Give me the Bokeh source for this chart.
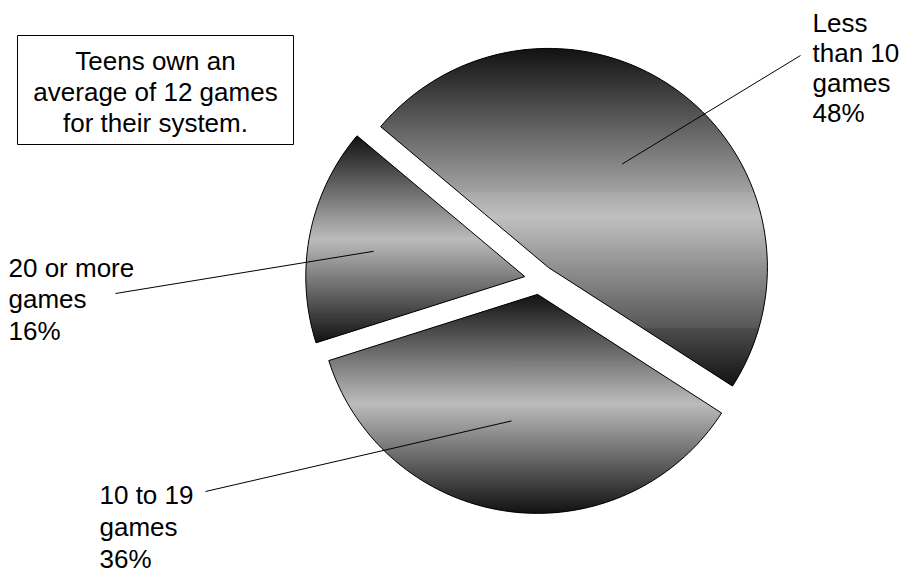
import math
from bokeh.plotting import figure
from bokeh.models import Range1d, ColumnDataSource
from bokeh.core.properties import value
from bokeh.embed import file_html
from bokeh.resources import INLINE

# ---------------- data ----------------
categories = ["Less than 10 games", "10 to 19 games", "20 or more games"]
values = [48, 36, 16]
label_lines = [["Less", "than 10", "games"], ["10 to 19", "games"], ["20 or more", "games"]]
note_lines = ["Teens own an", "average of 12 games", "for their system."]

# ---------------- layout (screen px, y downward) ----------------
W, H = 904, 573
CX, CY = 539.0, 279.0       # pie centre
R = 219.0                   # radius
EXPLODE = 15.0
START_DEG = 140.0           # first slice starts here and runs clockwise
DARK, LIGHT = 18, 188

label_x = [812, 99, 8]
label_y0 = [22, 494, 267]     # vertical middle of first line
label_gap = [30, 32, 31.5]
leader_outer = [(800, 55), (205, 491), (115, 293)]
leader_frac = [0.58, 0.59, 0.70]
leader_dang = [0.9, -4.0, 1.7]

FONT = value("Liberation Sans")
FSIZE = "26px"

p = figure(width=W, height=H, output_backend="svg", toolbar_location=None,
           x_range=Range1d(0, W), y_range=Range1d(H, 0),
           x_axis_type=None, y_axis_type=None, min_border=0,
           background_fill_color="white", border_fill_color="white")
p.outline_line_color = None
p.xgrid.visible = False
p.ygrid.visible = False


def pt(cx, cy, r, deg):
    a = math.radians(deg)
    return (cx + r * math.cos(a), cy - r * math.sin(a))


def clip_half(pts, ylim, keep_ge):
    out = []
    n = len(pts)
    for i in range(n):
        cur, prev = pts[i], pts[i - 1]
        cin = cur[1] >= ylim if keep_ge else cur[1] <= ylim
        pin = prev[1] >= ylim if keep_ge else prev[1] <= ylim
        if cin:
            if not pin:
                t = (ylim - prev[1]) / (cur[1] - prev[1])
                out.append((prev[0] + t * (cur[0] - prev[0]), ylim))
            out.append(cur)
        elif pin:
            t = (ylim - prev[1]) / (cur[1] - prev[1])
            out.append((prev[0] + t * (cur[0] - prev[0]), ylim))
    return out


total = float(sum(values))
angle = START_DEG
strip_xs, strip_ys, strip_cols = [], [], []
out_xs, out_ys = [], []
seg = dict(x0=[], y0=[], x1=[], y1=[])
txt = dict(x=[], y=[], text=[])

for i, v in enumerate(values):
    span = v / total * 360.0
    a0, a1 = angle, angle - span
    mid = (a0 + a1) / 2.0
    ax, ay = pt(CX, CY, EXPLODE, mid)
    steps = max(8, int(span / 1.5))
    poly = [(ax, ay)] + [pt(ax, ay, R, a0 + (a1 - a0) * k / steps) for k in range(steps + 1)]
    out_xs.append([q[0] for q in poly])
    out_ys.append([q[1] for q in poly])

    ymin = min(q[1] for q in poly)
    ymax = max(q[1] for q in poly)
    nb = int(math.ceil(ymax - ymin))
    h = (ymax - ymin) / nb
    for b in range(nb):
        y0 = ymin + b * h
        y1 = y0 + h + 0.6
        c = clip_half(poly, y0, True)
        if len(c) < 3:
            continue
        c = clip_half(c, y1, False)
        if len(c) < 3:
            continue
        t = (b + 0.5) / nb
        g = int(round(DARK + (LIGHT - DARK) * (1 - abs(2 * t - 1))))
        strip_xs.append([q[0] for q in c])
        strip_ys.append([q[1] for q in c])
        strip_cols.append("#%02x%02x%02x" % (g, g, g))

    # leader line
    ix, iy = pt(ax, ay, R * leader_frac[i], mid + leader_dang[i])
    ox, oy = leader_outer[i]
    seg["x0"].append(ix); seg["y0"].append(iy)
    seg["x1"].append(ox); seg["y1"].append(oy)

    lines = label_lines[i] + [f"{v}%"]
    for k, s in enumerate(lines):
        txt["x"].append(label_x[i])
        txt["y"].append(label_y0[i] + k * label_gap[i])
        txt["text"].append(s)
    angle = a1

p.patches(xs=strip_xs, ys=strip_ys, fill_color=strip_cols, line_color=None)
p.patches(xs=out_xs, ys=out_ys, fill_color=None, line_color="black", line_width=1)
p.segment(x0="x0", y0="y0", x1="x1", y1="y1", source=ColumnDataSource(seg),
          line_color="black", line_width=1)
p.text(x="x", y="y", text="text", source=ColumnDataSource(txt), text_font=FONT,
       text_font_size=FSIZE, text_color="black", text_baseline="middle", text_align="left")

# note box
p.quad(left=[17], right=[293], top=[35], bottom=[144], fill_color="white",
       line_color="black", line_width=1)
p.text(x=[155] * 3, y=[60, 91, 122], text=note_lines, text_font=FONT,
       text_font_size=FSIZE, text_color="black", text_baseline="middle",
       text_align="center")

open("out.html", "w").write(file_html(p, INLINE))
